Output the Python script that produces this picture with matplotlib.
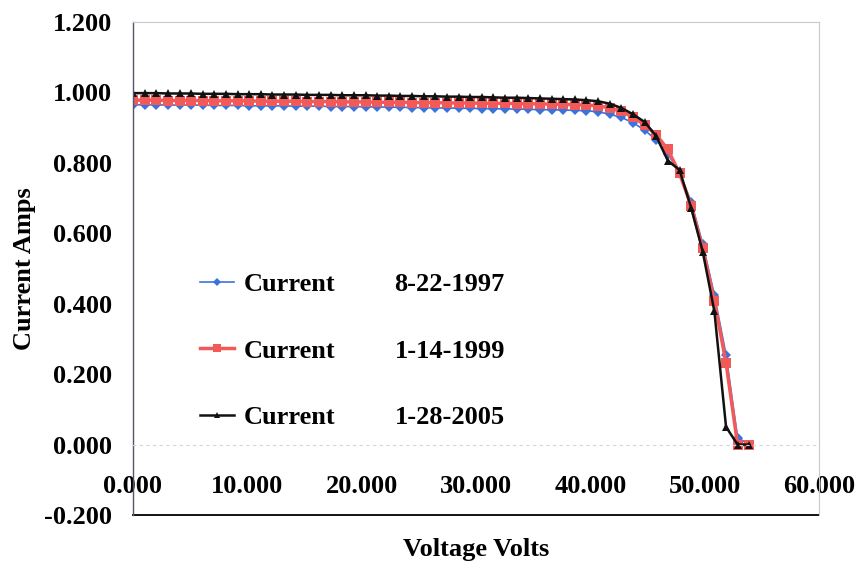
import matplotlib
matplotlib.use("Agg")
import matplotlib.pyplot as plt
from matplotlib.lines import Line2D

# --- data ---
voltage = [0.00, 1.02, 2.03, 3.05, 4.07, 5.08, 6.10, 7.12, 8.14, 9.15,
           10.17, 11.19, 12.20, 13.22, 14.24, 15.25, 16.27, 17.29, 18.31, 19.32,
           20.34, 21.36, 22.37, 23.39, 24.41, 25.42, 26.44, 27.46, 28.48, 29.49,
           30.51, 31.53, 32.54, 33.56, 34.58, 35.59, 36.61, 37.63, 38.65, 39.66,
           40.68, 41.70, 42.71, 43.73, 44.75, 45.76, 46.78, 47.80, 48.82, 49.83,
           50.85, 51.87, 52.88, 53.90]

current_1997 = [0.965, 0.965, 0.965, 0.964, 0.964, 0.964, 0.964, 0.963, 0.963, 0.963,
                0.962, 0.962, 0.962, 0.962, 0.961, 0.961, 0.961, 0.960, 0.960, 0.960,
                0.959, 0.959, 0.958, 0.958, 0.957, 0.957, 0.956, 0.956, 0.955, 0.955,
                0.954, 0.954, 0.953, 0.953, 0.952, 0.951, 0.951, 0.950, 0.949, 0.948,
                0.945, 0.938, 0.929, 0.914, 0.893, 0.865, 0.826, 0.770, 0.690, 0.570,
                0.425, 0.255, 0.020, 0.000]

current_1999 = [0.978, 0.978, 0.978, 0.977, 0.977, 0.977, 0.977, 0.976, 0.976, 0.976,
                0.976, 0.975, 0.975, 0.975, 0.975, 0.974, 0.974, 0.974, 0.973, 0.973,
                0.973, 0.972, 0.972, 0.972, 0.971, 0.971, 0.971, 0.970, 0.970, 0.970,
                0.969, 0.969, 0.969, 0.968, 0.968, 0.967, 0.967, 0.966, 0.965, 0.964,
                0.962, 0.956, 0.946, 0.930, 0.908, 0.880, 0.838, 0.770, 0.678, 0.558,
                0.408, 0.232, 0.000, 0.000]

current_2005 = [0.998, 0.998, 0.998, 0.997, 0.997, 0.997, 0.996, 0.996, 0.996, 0.995,
                0.995, 0.995, 0.994, 0.994, 0.994, 0.993, 0.993, 0.993, 0.992, 0.992,
                0.992, 0.991, 0.991, 0.990, 0.990, 0.989, 0.989, 0.988, 0.988, 0.987,
                0.987, 0.986, 0.985, 0.985, 0.984, 0.983, 0.982, 0.981, 0.980, 0.978,
                0.975, 0.968, 0.956, 0.938, 0.916, 0.876, 0.806, 0.780, 0.672, 0.548,
                0.378, 0.050, 0.000, 0.000]

dates = ['8-22-1997', '1-14-1999', '1-28-2005']
x_ticks = [0, 10, 20, 30, 40, 50, 60]
y_ticks = [-0.2, 0.0, 0.2, 0.4, 0.6, 0.8, 1.0, 1.2]

plt.rcParams['font.family'] = ['Liberation Serif', 'DejaVu Serif']
plt.rcParams['font.weight'] = 'bold'

fig = plt.figure(figsize=(8.61, 5.62), dpi=100)
ax = fig.add_axes([133 / 861, 1 - 515 / 562, (819 - 133) / 861, (515 - 22) / 562])

blue = '#3b73dc'
red = '#f25a5a'
black = '#111111'

ax.plot(voltage, current_1997, color=blue, lw=1.2, marker='D', ms=5,
        markeredgewidth=0, label='Current')
ax.plot(voltage, current_1999, color=red, lw=2.5, marker='s', ms=6.5,
        markeredgewidth=0, label='Current')
ax.plot(voltage, current_2005, color=black, lw=1.8, marker='^', ms=6,
        markeredgewidth=0, label='Current')

ax.set_xlim(0, 60)
ax.set_ylim(-0.2, 1.2)
ax.set_xticks(x_ticks)
ax.set_yticks(y_ticks)
ax.set_xticklabels([f"{v:.3f}" for v in x_ticks])
ax.set_yticklabels([f"{v:.3f}" for v in y_ticks])
ax.tick_params(axis='both', length=0, labelsize=19)
ax.tick_params(axis='x', pad=22)
ax.tick_params(axis='y', pad=15)

# Excel style frame: horizontal axis crosses at 0
ax.spines['bottom'].set_position(('data', 0))
ax.spines['bottom'].set_color('#d4d4dc')
ax.spines['bottom'].set_linestyle((0, (2, 4)))
ax.spines['bottom'].set_linewidth(0.8)
ax.spines['left'].set_color('#55556a')
ax.spines['left'].set_linewidth(1.0)
for side in ['top', 'right']:
    ax.spines[side].set_color('#c8c8d2')
    ax.spines[side].set_linewidth(0.8)
ax.axhline(-0.2, color='black', lw=1.3, clip_on=False)

ax.set_xlabel('Voltage Volts', fontsize=19, fontweight='bold', labelpad=29)
ax.set_ylabel('Current Amps', fontsize=19, fontweight='bold', labelpad=6)

# legend: series handles + a second column with the dates
handles, labels = ax.get_legend_handles_labels()
blanks = [Line2D([], [], color='none') for _ in dates]
leg = fig.legend(
    handles + blanks,
    labels + dates,
    ncol=2,
    loc='upper left',
    bbox_to_anchor=(200 / 861, 1 - 273 / 562),
    frameon=False,
    fontsize=19,
    handlelength=1.3,
    handletextpad=0.35,
    columnspacing=0.6,
    labelspacing=1.62,
    borderpad=0,
    borderaxespad=0,
    markerscale=0.8,
)

fig.savefig('out.png', dpi=100)
